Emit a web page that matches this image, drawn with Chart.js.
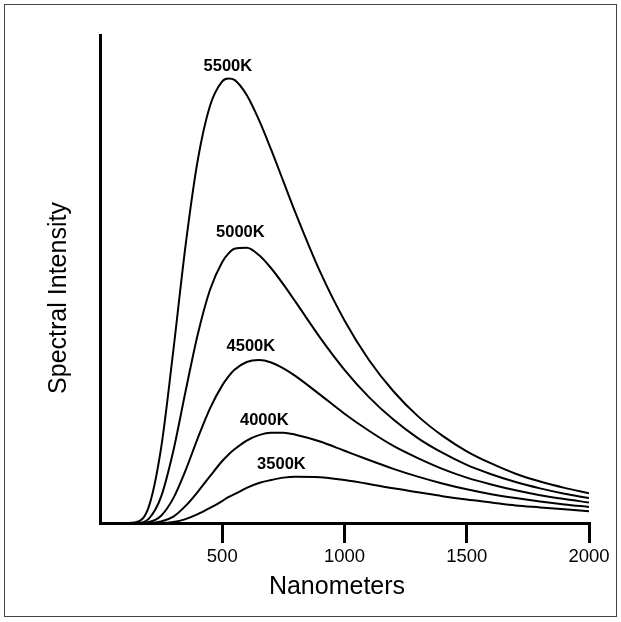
<!DOCTYPE html>
<html>
<head>
<meta charset="utf-8">
<script src="https://cdn.jsdelivr.net/npm/chart.js@4.4.1/dist/chart.umd.min.js"></script>
<style>
  html, body { margin: 0; padding: 0; background: #fff; }
  canvas { display: block; }
</style>
</head>
<body>
<canvas id="grafico" width="621" height="622"></canvas>
<script>
// wavelengths in nm
const wavelengths = [0, 100, 150, 200, 250, 300, 350, 400, 450, 500, 525, 550, 600, 650, 700, 750, 800, 900, 1000, 1100, 1200, 1300, 1400, 1500, 1600, 1700, 1800, 1900, 2000];

// spectral intensity, arbitrary units (axis top = 100)
const k5500 = [0, 0, 0.2, 3.4, 15.4, 35.4, 56.9, 74.4, 85.5, 90.5, 91.1, 90.8, 87.7, 82.6, 76.5, 70.0, 63.5, 51.5, 41.5, 33.4, 27.0, 21.9, 17.9, 14.7, 12.2, 10.1, 8.5, 7.2, 6.1];
const k5000 = [0, 0, 0, 0.9, 5.4, 14.8, 27.0, 38.7, 47.8, 53.5, 55.2, 56.2, 56.4, 54.9, 52.2, 48.9, 45.3, 38.0, 31.4, 25.8, 21.2, 17.4, 14.4, 11.9, 10.0, 8.4, 7.1, 6.0, 5.1];
const k4500 = [0, 0, 0, 0.2, 1.5, 5.1, 10.8, 17.4, 23.5, 28.2, 30.0, 31.4, 33.0, 33.4, 32.9, 31.7, 30.1, 26.3, 22.4, 18.9, 15.8, 13.3, 11.1, 9.3, 7.9, 6.7, 5.7, 4.9, 4.2];
const k4000 = [0, 0, 0, 0, 0.3, 1.3, 3.5, 6.4, 9.6, 12.7, 14.0, 15.1, 16.9, 18.0, 18.5, 18.5, 18.1, 16.7, 14.8, 12.9, 11.1, 9.5, 8.1, 6.9, 5.9, 5.1, 4.4, 3.8, 3.3];
const k3500 = [0, 0, 0, 0, 0, 0.2, 0.8, 1.8, 3.1, 4.5, 5.3, 5.9, 7.2, 8.2, 8.8, 9.3, 9.5, 9.4, 8.8, 8.0, 7.1, 6.3, 5.5, 4.8, 4.2, 3.6, 3.2, 2.8, 2.4];

const seriesNames = ["5500K", "5000K", "4500K", "4000K", "3500K"];
const seriesValues = [k5500, k5000, k4500, k4000, k3500];

const xTicks = [500, 1000, 1500, 2000];
const xTitle = "Nanometers";
const yTitle = "Spectral Intensity";

// where each curve name sits (data coords: nm, intensity)
const labelX = [523, 574, 617, 672, 742];
const labelY = [92.7, 58.7, 35.2, 20.1, 11.1];

const fonte = '"Liberation Sans", Arial, Helvetica, sans-serif';

const moldura = {
    id: "moldura",
    beforeDraw(chart) {
        const ctx = chart.ctx;
        ctx.save();
        ctx.fillStyle = "#fff";
        ctx.fillRect(0, 0, chart.width, chart.height);
        ctx.strokeStyle = "#444";
        ctx.lineWidth = 1;
        ctx.strokeRect(4.5, 4.5, 612, 612);
        ctx.restore();
    }
};

const textos = {
    id: "textos",
    afterDraw(chart) {
        const ctx = chart.ctx;
        const x = chart.scales.x, y = chart.scales.y;
        ctx.save();
        ctx.fillStyle = "#000";
        ctx.textAlign = "center";
        ctx.textBaseline = "alphabetic";

        ctx.font = "bold 16.5px " + fonte;
        seriesNames.forEach((nome, i) => {
            ctx.fillText(nome, x.getPixelForValue(labelX[i]), y.getPixelForValue(labelY[i]));
        });

        ctx.font = "25px " + fonte;
        ctx.fillText(xTitle, 337, 594);

        ctx.translate(65.5, 298);
        ctx.rotate(-Math.PI / 2);
        ctx.fillText(yTitle, 0, 0);
        ctx.restore();
    }
};

const ctx = document.getElementById("grafico").getContext("2d");
new Chart(ctx, {
    type: "line",
    data: {
        datasets: seriesValues.map((vals, i) => ({
            label: seriesNames[i],
            data: wavelengths.map((w, j) => ({ x: w, y: vals[j] })),
            borderColor: "#000",
            borderWidth: 2,
            pointRadius: 0,
            fill: false,
            cubicInterpolationMode: "monotone"
        }))
    },
    options: {
        responsive: false,
        animation: false,
        layout: { padding: { left: 0, right: 32, top: 35, bottom: 0 } },
        plugins: {
            legend: { display: false },
            tooltip: { enabled: false }
        },
        scales: {
            x: {
                type: "linear",
                min: 0,
                max: 2000,
                afterBuildTicks: scale => { scale.ticks = xTicks.map(v => ({ value: v })); },
                afterFit: scale => { scale.height = 99; },
                grid: {
                    display: true,
                    drawOnChartArea: false,
                    drawTicks: true,
                    tickLength: 20,
                    color: "#000",
                    lineWidth: 3
                },
                border: { display: true, color: "#000", width: 3 },
                ticks: {
                    color: "#000",
                    padding: 3,
                    maxRotation: 0,
                    font: { family: fonte, size: 18.5 },
                    callback: v => String(v)
                }
            },
            y: {
                min: 0,
                max: 100,
                afterFit: scale => { scale.width = 100; },
                grid: { display: false },
                border: { display: true, color: "#000", width: 3 },
                ticks: { display: false }
            }
        }
    },
    plugins: [moldura, textos]
});
</script>
</body>
</html>
